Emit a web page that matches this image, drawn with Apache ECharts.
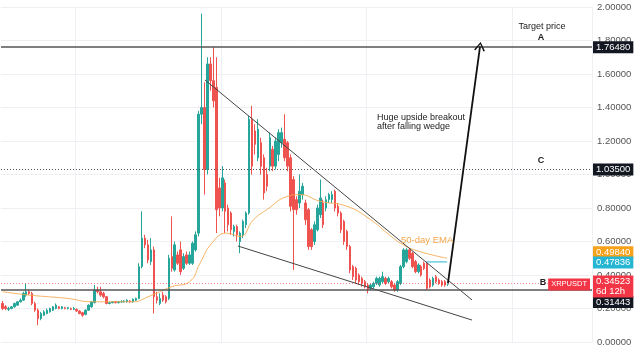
<!DOCTYPE html>
<html>
<head>
<meta charset="utf-8">
<script src="https://cdn.jsdelivr.net/npm/echarts@6/dist/echarts.min.js"></script>
<style>
  html, body { margin: 0; background: #fff; }
  #chart { width: 640px; height: 352px; }
</style>
</head>
<body>
<div id="chart"></div>
<script>
// XRPUSDT candles (open / close / low / high)
const openV = [
  .23, .21, .195, .20, .21, .22, .24, .25, .28, .30,
  .29, .23, .19, .14, .16, .17, .18, .19, .20, .21,
  .20, .205, .20, .20, .195, .195, .185, .175, .165, .19,
  .21, .235, .31, .30, .29, .27, .23, .235, .24, .235,
  .24, .24, .24, .245, .24, .25,
  .26, .45, .62, .58, .48, .55, .27, .23, .28, .27,
  .26, .51, .43, .52, .55, .44, .52, .47, .47, .55,
  .65, 1.36, 1.40, 1.03, 1.66, 1.56, 1.52, .92, .80, .95,
  .80, .77, .66, .69, .60, .64, .70, .77, 1.33, 1.26,
  1.10, 1.19, 1.10, 1.00, 1.05, 1.15, 1.05, 1.12, 1.19, 1.21,
  1.19, 1.10, .97, .85, .83, .88, .83, .79, .67, .60,
  .67, .76, .83, .80, .85, .85, .90, .81, .77, .72,
  .66, .57, .45, .44, .40, .38, .36, .34, .32, .33,
  .35, .34, .36, .38, .36, .36, .34, .31, .35, .45,
  .48, .55, .53, .48, .42, .45, .47, .47, .37, .34,
  .39, .37, .36, .36, .345
]
const closeV = [
  .20, .20, .20, .21, .23, .24, .25, .29, .30, .29,
  .23, .19, .14, .17, .18, .19, .20, .21, .22, .20,
  .21, .20, .205, .195, .20, .185, .17, .16, .19, .22,
  .24, .31, .30, .28, .27, .23, .235, .24, .235, .24,
  .24, .245, .25, .24, .255, .26,
  .45, .62, .58, .49, .55, .27, .25, .26, .25, .24,
  .50, .44, .58, .47, .42, .51, .47, .52, .59, .64,
  1.36, 1.40, 1.03, 1.66, 1.56, 1.44, .79, .80, .98, .78,
  .70, .67, .69, .64, .65, .72, .77, 1.33, 1.05, 1.18,
  1.27, 1.05, .89, .93, 1.22, 1.05, 1.20, 1.25, 1.25, 1.10,
  1.05, .81, .79, .79, .90, .93, .73, .57, .57, .70,
  .80, .86, .70, .85, .88, .88, .80, .77, .67, .60,
  .57, .43, .39, .37, .36, .35, .33, .31, .34, .35,
  .38, .38, .39, .35, .38, .33, .31, .36, .45, .55,
  .55, .50, .45, .42, .46, .40, .44, .32, .33, .38,
  .36, .35, .34, .34, .345
]
const lowV = [
  .19, .19, .185, .195, .205, .215, .235, .245, .27, .28,
  .22, .18, .10, .13, .155, .165, .175, .185, .195, .195,
  .195, .195, .195, .19, .19, .18, .165, .15, .16, .185,
  .205, .23, .29, .27, .26, .225, .225, .23, .23, .23,
  .235, .235, .235, .235, .235, .245,
  .255, .44, .56, .47, .46, .17, .23, .22, .24, .23,
  .25, .42, .42, .46, .40, .43, .46, .46, .46, .54,
  .63, 1.30, .88, 1.00, 1.50, 1.40, .65, .75, .78, .65,
  .66, .64, .63, .60, .53, .62, .68, .76, 1.00, 1.12,
  1.08, 1.00, .85, .90, 1.02, 1.02, 1.03, 1.08, 1.16, 1.08,
  1.02, .78, .43, .76, .80, .85, .70, .55, .55, .58,
  .66, .74, .68, .78, .83, .83, .78, .75, .65, .58,
  .55, .41, .37, .35, .34, .33, .32, .29, .31, .32,
  .34, .33, .35, .34, .35, .32, .30, .30, .34, .44,
  .47, .49, .44, .41, .41, .39, .43, .31, .32, .33,
  .35, .34, .33, .33, .335
]
const highV = [
  .245, .22, .21, .215, .235, .245, .26, .30, .35, .31,
  .30, .24, .20, .18, .19, .20, .205, .215, .23, .215,
  .215, .21, .21, .205, .21, .20, .19, .18, .195, .225,
  .245, .34, .33, .33, .30, .275, .24, .245, .245, .245,
  .25, .25, .255, .25, .26, .265,
  .47, .78, .64, .61, .62, .57, .30, .29, .30, .28,
  .52, .75, .60, .54, .60, .53, .54, .54, .60, .66,
  1.38, 1.96, 1.55, 1.70, 1.70, 1.76, 1.70, .98, 1.05, .97,
  .82, .78, .70, .70, .66, .73, .78, 1.35, 1.41, 1.30,
  1.33, 1.22, 1.12, 1.04, 1.25, 1.17, 1.22, 1.27, 1.28, 1.36,
  1.20, 1.12, .99, .87, 1.00, .95, .85, .80, .68, .72,
  .82, .97, .85, .87, .89, .90, .91, .83, .78, .73,
  .67, .58, .46, .45, .41, .39, .37, .35, .35, .36,
  .39, .39, .42, .39, .39, .37, .35, .37, .46, .56,
  .56, .56, .54, .49, .47, .46, .48, .48, .38, .39,
  .40, .38, .37, .37, .35
]

// 50-day EMA, read at points along the curve (x = candle slot)
const emaX = [0, 9, 22, 30, 44, 49, 57, 63, 66.5, 70.5, 75.5, 80, 84.5, 89, 96, 100, 107, 116, 124, 129.5, 135, 140.5, 149.7]
const emaV = [0.30, 0.28, 0.26, 0.24, 0.24, 0.27, 0.33, 0.36, 0.47, 0.59, 0.65, 0.63, 0.73, 0.79, 0.87, 0.88, 0.84, 0.81, 0.73, 0.65, 0.58, 0.54, 0.50]

// drawn annotations, in (candle slot, price)
const wedgeUpper = [[68.2, 1.564], [158.1, 0.251]]
const wedgeLower = [[79.3, 0.573], [158.1, 0.131]]
const breakoutArrow = [[150, 0.352], [160.8, 1.7648]]
const cyanLine = [[142.9, 0.478], [149.7, 0.478]]

// price levels
const levelA = 1.7648
const levelC = 1.035
const levelB = 0.31443
const lastPrice = 0.34523
const emaLast = 0.4984
const cyanLast = 0.47836

const slotCount = 199 // candles plus empty space on the right
const categories = []
for (let i = 0; i < slotCount; i++) categories.push(String(i))
const candles = openV.map((o, i) => [o, closeV[i], lowV[i], highV[i]])

const FONT = 'Liberation Sans, Arial, sans-serif'
const UP = '#26a69a'
const DOWN = '#ef5350'
const NOLINE = 'rgba(0,0,0,0)'

function boxLabel(text, bg, dy) {
  return {
    show: true,
    position: 'end',
    distance: 1,
    formatter: text,
    color: '#fff',
    opacity: 1,
    backgroundColor: bg,
    padding: [1, 3, 1, 3],
    fontSize: 9.5,
    fontFamily: FONT,
    lineHeight: 10,
    offset: [0, dy || 0]
  }
}

const chart = echarts.init(document.getElementById('chart'))

chart.setOption({
  animation: false,
  grid: { left: 1, right: 48, top: 7, bottom: 10 },
  xAxis: [
    {
      type: 'category',
      data: categories,
      axisLine: { show: false },
      axisTick: { show: false },
      axisLabel: { show: false },
      splitLine: {
        show: true,
        interval: (i) => i % 49 === 25,
        lineStyle: { color: '#eef0f4', width: 1 }
      }
    },
    { type: 'value', min: -0.5, max: slotCount - 0.5, show: false }
  ],
  yAxis: {
    type: 'value',
    position: 'right',
    min: 0,
    max: 2,
    interval: 0.2,
    axisLine: { show: false },
    axisTick: { show: false },
    axisLabel: {
      color: '#555',
      fontSize: 9.5,
      fontFamily: FONT,
      margin: 5,
      formatter: (v) => v.toFixed(5)
    },
    splitLine: { lineStyle: { color: '#eef0f4' } }
  },
  series: [
    {
      type: 'candlestick',
      data: candles,
      barWidth: 2,
      itemStyle: { color: UP, color0: DOWN, borderColor: UP, borderColor0: DOWN, borderWidth: 1 },
      markLine: {
        silent: true,
        symbol: ['none', 'none'],
        data: [
          { yAxis: levelA, lineStyle: { color: '#555', width: 1.5, type: 'solid' }, label: boxLabel('1.76480', '#131722') },
          { yAxis: levelC, lineStyle: { color: '#555', width: 1, type: [1, 2] }, label: boxLabel('1.03500', '#131722') },
          { yAxis: levelB, lineStyle: { color: '#555', width: 1.5, type: 'solid' }, label: boxLabel('0.31443', '#131722', 12) },
          { yAxis: lastPrice, lineStyle: { color: 'rgba(242,54,69,0.6)', width: 1, type: [1, 2] }, label: boxLabel('0.34523\n6d 12h', '#f23645', 3) },
          {
            yAxis: lastPrice,
            lineStyle: { color: NOLINE },
            label: {
              show: true, position: 'insideEnd', distance: 2, formatter: 'XRPUSDT',
              color: '#fff', backgroundColor: '#f23645', padding: [2, 3, 2, 3],
              fontSize: 7.5, fontFamily: FONT, offset: [0, 1]
            }
          },
          { yAxis: emaLast, lineStyle: { color: NOLINE }, label: boxLabel('0.49840', '#f7a21b', -6) },
          { yAxis: cyanLast, lineStyle: { color: NOLINE }, label: boxLabel('0.47836', '#26b6d4', 1) }
        ]
      }
    },
    {
      name: '50-day EMA',
      type: 'line',
      xAxisIndex: 1,
      data: emaX.map((x, i) => [x, emaV[i]]),
      smooth: true,
      symbol: 'none',
      lineStyle: { color: '#f5a64a', width: 1, opacity: 0.85 }
    },
    {
      type: 'line',
      xAxisIndex: 1,
      data: wedgeUpper,
      symbol: 'none',
      lineStyle: { color: '#444', width: 1 }
    },
    {
      type: 'line',
      xAxisIndex: 1,
      data: wedgeLower,
      symbol: 'none',
      lineStyle: { color: '#444', width: 1 }
    },
    {
      type: 'line',
      xAxisIndex: 1,
      data: cyanLine,
      symbol: 'none',
      lineStyle: { color: '#26b6d4', width: 1 }
    },
    {
      type: 'line',
      xAxisIndex: 1,
      data: [],
      markLine: {
        silent: true,
        symbol: ['none', 'path://M0,12 L6,0 L12,12 L10.4,12.8 L6,3.4 L1.6,12.8 Z'],
        symbolSize: [11, 9],
        label: { show: false },
        lineStyle: { color: '#111', width: 1.8, type: 'solid' },
        data: [[{ coord: breakoutArrow[0] }, { coord: breakoutArrow[1] }]]
      }
    }
  ],
  graphic: [
    { type: 'text', z: 100, style: { text: 'Target price', x: 542, y: 27, textAlign: 'center', textVerticalAlign: 'middle', font: '9px ' + FONT, fill: '#222' } },
    { type: 'text', z: 100, style: { text: 'A', x: 541, y: 38, textAlign: 'center', textVerticalAlign: 'middle', font: 'bold 9px ' + FONT, fill: '#222' } },
    { type: 'text', z: 100, style: { text: 'C', x: 541, y: 161, textAlign: 'center', textVerticalAlign: 'middle', font: 'bold 9px ' + FONT, fill: '#222' } },
    { type: 'text', z: 100, style: { text: 'B', x: 543, y: 283, textAlign: 'center', textVerticalAlign: 'middle', font: 'bold 9px ' + FONT, fill: '#222' } },
    { type: 'text', z: 100, style: { text: 'Huge upside breakout\nafter falling wedge', x: 377, y: 113, textVerticalAlign: 'top', font: '9px ' + FONT, lineHeight: 9, fill: '#222' } },
    { type: 'text', z: 100, style: { text: '50-day EMA', x: 401, y: 240, textVerticalAlign: 'middle', font: '9.5px ' + FONT, fill: '#f5a64a' } }
  ]
})
</script>
</body>
</html>
